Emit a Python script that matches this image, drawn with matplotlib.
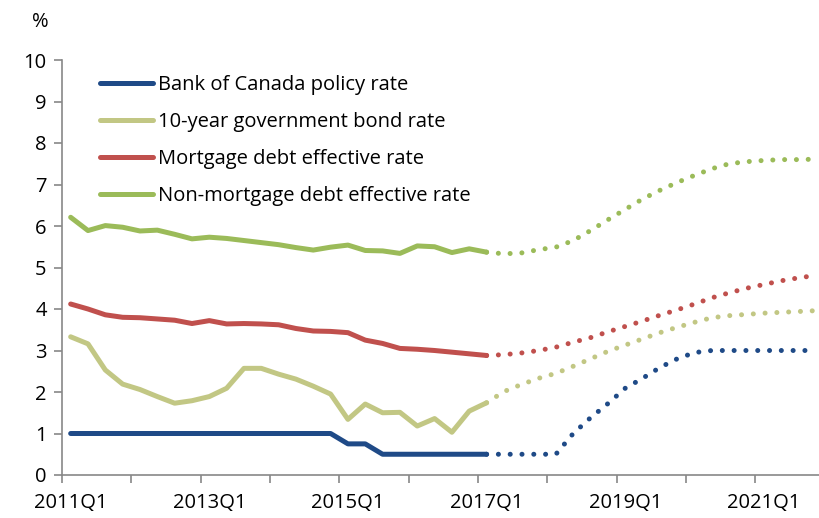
import numpy as np
import matplotlib
matplotlib.use('Agg')
import matplotlib.pyplot as plt

plt.rcParams['font.family'] = ['Open Sans', 'DejaVu Sans']

# quarters 2011Q1 .. 2021Q4
quarters = [f'{y}Q{q}' for y in range(2011, 2022) for q in range(1, 5)]
tick_labels = ['2011Q1', '2013Q1', '2015Q1', '2017Q1', '2019Q1', '2021Q1']

# history 2011Q1 - 2017Q1
policy_hist = [1.0, 1.0, 1.0, 1.0, 1.0, 1.0, 1.0, 1.0, 1.0, 1.0, 1.0, 1.0, 1.0,
               1.0, 1.0, 1.0, 0.75, 0.75, 0.5, 0.5, 0.5, 0.5, 0.5, 0.5, 0.5]
bond_hist = [3.33, 3.16, 2.53, 2.19, 2.06, 1.89, 1.73, 1.79, 1.89, 2.09, 2.57,
             2.57, 2.43, 2.31, 2.14, 1.95, 1.34, 1.71, 1.50, 1.51, 1.18, 1.36,
             1.03, 1.54, 1.74]
mort_hist = [4.12, 4.00, 3.86, 3.80, 3.79, 3.76, 3.73, 3.65, 3.72, 3.64, 3.65,
             3.64, 3.62, 3.53, 3.47, 3.46, 3.43, 3.25, 3.17, 3.05, 3.03, 3.00,
             2.96, 2.92, 2.88]
nonmort_hist = [6.21, 5.89, 6.01, 5.97, 5.88, 5.90, 5.80, 5.69, 5.73, 5.70, 5.65,
                5.60, 5.55, 5.48, 5.42, 5.49, 5.54, 5.41, 5.40, 5.34, 5.52, 5.50,
                5.36, 5.45, 5.37]

# projections 2017Q1 - 2021Q4
policy_proj = [0.5, 0.5, 0.5, 0.5, 0.5, 1.0, 1.38, 1.72, 2.09, 2.33, 2.59, 2.8,
               2.95, 3.0, 3.0, 3.0, 3.0, 3.0, 3.0, 3.0]
bond_proj = [1.74, 2.01, 2.18, 2.33, 2.45, 2.62, 2.80, 2.98, 3.13, 3.28, 3.43,
             3.56, 3.68, 3.79, 3.84, 3.87, 3.90, 3.92, 3.94, 3.96]
mort_proj = [2.88, 2.90, 2.94, 3.00, 3.08, 3.20, 3.31, 3.45, 3.58, 3.71, 3.85,
             3.98, 4.12, 4.27, 4.39, 4.50, 4.59, 4.68, 4.75, 4.81]
nonmort_proj = [5.37, 5.33, 5.35, 5.43, 5.49, 5.65, 5.89, 6.15, 6.40, 6.65, 6.86,
                7.05, 7.22, 7.38, 7.50, 7.55, 7.58, 7.60, 7.60, 7.61]

names = ['Bank of Canada policy rate', '10-year government bond rate',
         'Mortgage debt effective rate', 'Non-mortgage debt effective rate']
colors = ['#1F4A87', '#C2C784', '#C0504D', '#9BBB59']

hist = [policy_hist, bond_hist, mort_hist, nonmort_hist]
proj = [policy_proj, bond_proj, mort_proj, nonmort_proj]

W, H = 820, 518
fig = plt.figure(figsize=(W / 100, H / 100), dpi=100)
ax = fig.add_axes([62 / W, 43 / H, 762.5 / W, 415 / H])

n_hist = len(policy_hist)
x_hist = np.arange(n_hist)
x_proj = np.arange(n_hist - 1, n_hist - 1 + len(policy_proj))

for h, p, c, name in zip(hist, proj, colors, names):
    ax.plot(x_hist, h, color=c, lw=3.6, solid_capstyle='round',
            solid_joinstyle='round', label=name)
    ax.plot(x_proj, p, color=c, lw=3.6, linestyle=(0, (0.01, 2.35)),
            dash_capstyle='round')

ax.set_xlim(-0.5, len(quarters) - 0.5)
ax.set_ylim(0, 10)
ax.set_yticks(range(0, 11))

label_pos = [quarters.index(t) for t in tick_labels]
ax.set_xticks(label_pos)
ax.set_xticklabels(tick_labels)
ax.set_xticks(np.arange(-0.5, len(quarters), 4), minor=True)
ax.tick_params(axis='x', which='major', length=0, pad=13, labelsize=14.5)
ax.tick_params(axis='x', which='minor', length=6, width=1.2, color='#888888')
ax.tick_params(axis='y', length=6, width=1.2, color='#888888', labelsize=14.5, pad=5)

for s in ['top', 'right']:
    ax.spines[s].set_visible(False)
for s in ['left', 'bottom']:
    ax.spines[s].set_color('#888888')
    ax.spines[s].set_linewidth(1.2)

fig.text(40 / W, 1 - 22 / H, '%', fontsize=14.5, ha='center', va='center')

leg = ax.legend(loc='upper left', bbox_to_anchor=(100 / W, 1 - 75 / H),
                bbox_transform=fig.transFigure, frameon=False, fontsize=14.5,
                handlelength=2.65, handletextpad=0.25, labelspacing=0.85,
                borderaxespad=0, borderpad=0)

fig.savefig('out.png', dpi=100)
